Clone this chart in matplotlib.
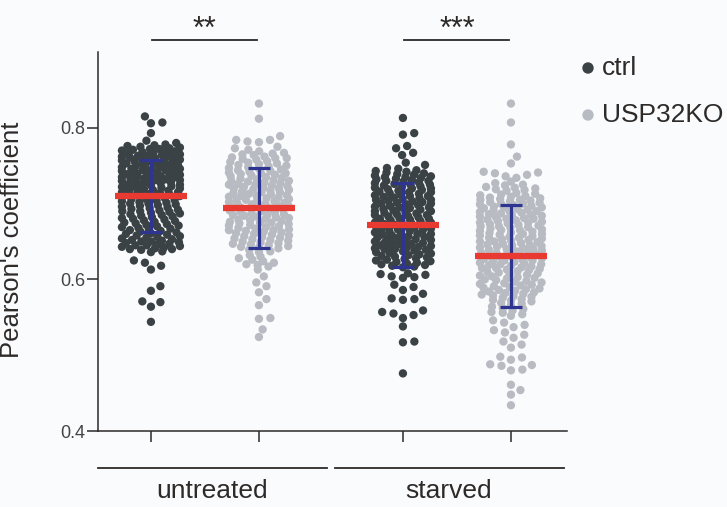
import numpy as np
import matplotlib
matplotlib.use("Agg")
import matplotlib.pyplot as plt
from matplotlib.patches import Ellipse

plt.rcParams['font.family'] = ['Liberation Sans', 'DejaVu Sans']

# ---------------- data ----------------
ctrl_untreated = [
    0.815, 0.807, 0.806, 0.793, 0.783, 0.780, 0.778, 0.777, 0.776, 0.775,
    0.774, 0.773, 0.772, 0.772, 0.771, 0.770,
    0.769, 0.768, 0.768, 0.767, 0.766, 0.765, 0.765,
    0.764, 0.763, 0.763, 0.762, 0.761, 0.761, 0.760,
    0.759, 0.759, 0.758, 0.757, 0.756, 0.756, 0.755,
    0.754, 0.753, 0.753, 0.752, 0.751, 0.751, 0.750,
    0.749, 0.748, 0.748, 0.747, 0.746, 0.746, 0.745,
    0.744, 0.744, 0.743, 0.742, 0.741, 0.741, 0.740,
    0.739, 0.738, 0.738, 0.737, 0.736, 0.735, 0.735,
    0.734, 0.733, 0.733, 0.732, 0.731, 0.731, 0.730,
    0.729, 0.728, 0.728, 0.727, 0.726, 0.725, 0.725,
    0.724, 0.723, 0.722, 0.722, 0.721, 0.720,
    0.719, 0.718, 0.718, 0.717, 0.716, 0.715, 0.715,
    0.714, 0.713, 0.712, 0.712, 0.711, 0.710,
    0.709, 0.708, 0.707, 0.706, 0.706, 0.705,
    0.704, 0.703, 0.702, 0.701, 0.700, 0.700,
    0.699, 0.698, 0.697, 0.696, 0.695,
    0.694, 0.693, 0.692, 0.691, 0.690, 0.690,
    0.689, 0.688, 0.687, 0.686, 0.685,
    0.684, 0.683, 0.682, 0.681, 0.680,
    0.679, 0.678, 0.677, 0.676, 0.675,
    0.674, 0.673, 0.672, 0.671, 0.670,
    0.669, 0.668, 0.667, 0.666, 0.665,
    0.664, 0.663, 0.662, 0.661, 0.660,
    0.659, 0.658, 0.657, 0.656, 0.655,
    0.654, 0.653, 0.652, 0.651, 0.650, 0.650,
    0.649, 0.648, 0.647, 0.646, 0.645, 0.645,
    0.644, 0.643, 0.642, 0.641, 0.640, 0.640,
    0.639, 0.637, 0.636,
    0.625, 0.622, 0.618, 0.613, 0.591, 0.585, 0.571, 0.570, 0.564, 0.544,
]

ko_untreated = [
    0.832, 0.812, 0.789, 0.784, 0.784, 0.782, 0.781, 0.775, 0.773, 0.771,
    0.769, 0.767, 0.766, 0.765,
    0.764, 0.762, 0.761, 0.760, 0.760,
    0.759, 0.758, 0.756, 0.755,
    0.754, 0.753, 0.752, 0.751, 0.750,
    0.749, 0.748, 0.747, 0.746, 0.745,
    0.744, 0.743, 0.742, 0.741, 0.740, 0.740,
    0.739, 0.738, 0.737, 0.736, 0.735,
    0.734, 0.733, 0.732, 0.731, 0.730, 0.730,
    0.729, 0.728, 0.727, 0.726, 0.725, 0.725,
    0.724, 0.723, 0.722, 0.721, 0.720, 0.720,
    0.719, 0.718, 0.717, 0.716, 0.715, 0.715,
    0.714, 0.713, 0.712, 0.711, 0.710, 0.710,
    0.709, 0.708, 0.707, 0.706, 0.705, 0.705,
    0.704, 0.703, 0.702, 0.701, 0.700, 0.700,
    0.699, 0.698, 0.697, 0.696, 0.695, 0.695,
    0.694, 0.693, 0.692, 0.691, 0.690,
    0.689, 0.688, 0.687, 0.686, 0.685, 0.685,
    0.684, 0.683, 0.682, 0.681, 0.680,
    0.679, 0.678, 0.677, 0.676, 0.675, 0.675,
    0.674, 0.673, 0.672, 0.671, 0.670,
    0.669, 0.668, 0.667, 0.666, 0.665, 0.665,
    0.664, 0.663, 0.662, 0.661, 0.660,
    0.659, 0.658, 0.657, 0.656, 0.655,
    0.654, 0.653, 0.652, 0.651, 0.650,
    0.649, 0.648, 0.647, 0.646, 0.645,
    0.644, 0.643, 0.642, 0.641,
    0.639, 0.637, 0.636,
    0.632, 0.630, 0.628, 0.626, 0.624, 0.622, 0.620, 0.619, 0.617, 0.613,
    0.604, 0.596, 0.591, 0.583, 0.574, 0.566, 0.549, 0.548, 0.534, 0.524,
]

ctrl_starved = [
    0.813, 0.793, 0.791, 0.776, 0.773, 0.767, 0.764, 0.754, 0.751, 0.747, 0.746,
    0.744, 0.743, 0.742, 0.741, 0.740,
    0.739, 0.738, 0.737, 0.736, 0.735, 0.735,
    0.734, 0.733, 0.732, 0.731, 0.730, 0.730,
    0.729, 0.728, 0.727, 0.726, 0.725, 0.725,
    0.724, 0.723, 0.722, 0.721, 0.720, 0.720,
    0.719, 0.718, 0.717, 0.716, 0.715, 0.715,
    0.714, 0.713, 0.712, 0.711, 0.710, 0.710,
    0.709, 0.708, 0.707, 0.706, 0.705, 0.705,
    0.704, 0.703, 0.702, 0.701, 0.700, 0.700,
    0.699, 0.698, 0.697, 0.696, 0.695, 0.695,
    0.694, 0.693, 0.692, 0.691, 0.690, 0.690,
    0.689, 0.688, 0.687, 0.686, 0.685, 0.685,
    0.684, 0.683, 0.682, 0.681, 0.680, 0.680,
    0.679, 0.678, 0.677, 0.676, 0.675, 0.675,
    0.674, 0.673, 0.672, 0.671, 0.670, 0.670,
    0.669, 0.668, 0.667, 0.666, 0.665, 0.665,
    0.664, 0.663, 0.662, 0.661, 0.660, 0.660,
    0.659, 0.658, 0.657, 0.656, 0.655, 0.655,
    0.654, 0.653, 0.652, 0.651, 0.650, 0.650,
    0.649, 0.648, 0.647, 0.646, 0.645, 0.645,
    0.644, 0.643, 0.642, 0.641, 0.640, 0.640,
    0.639, 0.638, 0.637, 0.636, 0.635,
    0.634, 0.633, 0.632, 0.631, 0.630,
    0.629, 0.628, 0.627, 0.626, 0.625,
    0.624, 0.623, 0.622, 0.621, 0.620,
    0.619, 0.618, 0.617, 0.616,
    0.608, 0.607, 0.606, 0.604, 0.603, 0.602, 0.593, 0.590, 0.586, 0.581,
    0.575, 0.574, 0.573, 0.559, 0.557, 0.555, 0.553, 0.549, 0.538, 0.518,
    0.517, 0.476,
]

ko_starved = [
    0.832, 0.807, 0.778, 0.762, 0.753, 0.742, 0.741, 0.740, 0.738, 0.736,
    0.734, 0.729, 0.727, 0.725, 0.724,
    0.722, 0.721, 0.720, 0.719, 0.718, 0.717,
    0.714, 0.713, 0.712, 0.711, 0.710,
    0.709, 0.708, 0.707, 0.706, 0.705, 0.705,
    0.704, 0.703, 0.702, 0.701, 0.700, 0.700,
    0.699, 0.698, 0.697, 0.696, 0.695, 0.695,
    0.694, 0.693, 0.692, 0.691, 0.690, 0.690,
    0.689, 0.688, 0.687, 0.686, 0.685, 0.685,
    0.684, 0.683, 0.682, 0.681, 0.680, 0.680,
    0.679, 0.678, 0.677, 0.676, 0.675, 0.675,
    0.674, 0.673, 0.672, 0.671, 0.670, 0.670,
    0.669, 0.668, 0.667, 0.666, 0.665, 0.665,
    0.664, 0.663, 0.662, 0.661, 0.660, 0.660,
    0.659, 0.658, 0.657, 0.656, 0.655, 0.655,
    0.654, 0.653, 0.652, 0.651, 0.650, 0.650,
    0.649, 0.648, 0.647, 0.646, 0.645, 0.645,
    0.644, 0.643, 0.642, 0.641, 0.640, 0.640,
    0.639, 0.638, 0.637, 0.636, 0.635, 0.635,
    0.634, 0.633, 0.632, 0.631, 0.630, 0.630,
    0.629, 0.628, 0.627, 0.626, 0.625, 0.625,
    0.624, 0.623, 0.622, 0.621, 0.620, 0.620,
    0.619, 0.618, 0.617, 0.616, 0.615, 0.615,
    0.614, 0.613, 0.612, 0.611, 0.610,
    0.609, 0.608, 0.607, 0.606, 0.605,
    0.604, 0.603, 0.602, 0.601, 0.600,
    0.599, 0.598, 0.597, 0.596, 0.595,
    0.594, 0.593, 0.592, 0.591, 0.590,
    0.589, 0.588, 0.587, 0.586, 0.585,
    0.584, 0.583, 0.582, 0.581, 0.580,
    0.579, 0.578, 0.577, 0.576,
    0.574, 0.573, 0.572, 0.571,
    0.569, 0.568, 0.566,
    0.564, 0.562, 0.561,
    0.559, 0.557, 0.556,
    0.554, 0.552,
    0.546, 0.543, 0.540, 0.537, 0.533, 0.530, 0.527, 0.523, 0.518, 0.514,
    0.510, 0.498, 0.497, 0.494, 0.488, 0.487, 0.486, 0.481, 0.480, 0.461,
    0.454, 0.448, 0.434,
]

group_values = [ctrl_untreated, ko_untreated, ctrl_starved, ko_starved]
group_series = ["ctrl", "USP32KO", "ctrl", "USP32KO"]
means = [0.710, 0.694, 0.672, 0.631]
sds = [0.047, 0.053, 0.055, 0.067]
conditions = ["untreated", "starved"]
significance = ["**", "***"]
series_names = ["ctrl", "USP32KO"]
yticks = [0.4, 0.6, 0.8]

# ---------------- style ----------------
BG = "#fafbfd"
TXT = "#2d2a28"
COLORS = {"ctrl": "#3b4246", "USP32KO": "#b8bcc2"}
RED = "#e83a30"
BLUE = "#2e3590"

positions = [0.0, 1.0, 2.333, 3.333]
half_widths_px = [29, 30, 28, 31]   # max swarm half-width per group

fig = plt.figure(figsize=(7.27, 5.07), dpi=100, facecolor=BG)
ax_left, ax_bottom = 98 / 727, 1 - 431 / 507
ax_w, ax_h = (567 - 98) / 727, (431 - 52) / 507
ax = fig.add_axes([ax_left, ax_bottom, ax_w, ax_h])
ax.set_facecolor(BG)
XLIM = (-0.49, 3.852)
YLIM = (0.4, 0.9)
ax.set_xlim(*XLIM)
ax.set_ylim(*YLIM)

PX_X = (567 - 98) / (XLIM[1] - XLIM[0])   # pixels per x unit
PX_Y = (431 - 52) / (YLIM[1] - YLIM[0])   # pixels per y unit


def swarm_x(vals, center, cap, a=11.5, b_sparse=8.0, b_dense=4.3):
    """Capped anisotropic beeswarm layout (pixels), returned in data x units."""
    vals = np.asarray(vals, dtype=float)
    ypx = (vals - YLIM[0]) * PX_Y
    # local crowding decides how much vertical room each dot claims
    loc = np.array([(np.abs(ypx - y) < 6).sum() for y in ypx])
    bvals = np.where(loc > 6, b_dense, b_sparse)
    order = np.argsort(ypx)
    px, py = np.zeros(len(vals)), np.zeros(len(vals))
    n_placed = 0
    grid = np.arange(-cap, cap + 0.01, 0.5)
    xs = np.zeros_like(vals)
    for i in order:
        y = ypx[i]
        b = bvals[i]
        cx, cy = px[:n_placed], py[:n_placed]
        near = np.abs(cy - y) < b
        nx, ny = cx[near], cy[near]
        chosen = None
        if len(nx) == 0:
            chosen = 0.0
        else:
            cands = [0.0]
            for xx, yy in zip(nx, ny):
                off = a * np.sqrt(max(1 - ((yy - y) / b) ** 2, 0.0))
                cands += [xx + off, xx - off]
            cands = np.array(cands)
            cands = cands[np.abs(cands) <= cap + 1e-6]
            cands = cands[np.argsort(np.abs(cands) + 1e-6 * (cands < 0))]
            for c in cands:
                dist = ((nx - c) / a) ** 2 + ((ny - y) / b) ** 2
                if np.all(dist >= 1 - 1e-6):
                    chosen = c
                    break
            if chosen is None:
                dist = ((grid[:, None] - nx[None, :]) / a) ** 2 + \
                       ((y - ny[None, :]) / b) ** 2
                score = dist.min(axis=1) - 1e-4 * np.abs(grid)
                chosen = grid[np.argmax(score)]
        px[n_placed], py[n_placed] = chosen, y
        n_placed += 1
        xs[i] = center + chosen / PX_X
    return xs


for vals, ser, pos, m, s, hw in zip(group_values, group_series, positions, means,
                                     sds, half_widths_px):
    xs = swarm_x(vals, pos, hw)
    ax.scatter(xs, vals, s=36, color=COLORS[ser], edgecolors="none", zorder=2)
    ax.errorbar([pos], [m], yerr=[s], color=BLUE, elinewidth=2.3, capsize=8,
                capthick=2.3, fmt="none", zorder=3)
    ax.hlines(m, pos - 0.335, pos + 0.335, color=RED, lw=4.5, zorder=4)

for side in ("top", "right"):
    ax.spines[side].set_visible(False)
for side in ("left", "bottom"):
    ax.spines[side].set_color(TXT)
    ax.spines[side].set_linewidth(1.1)

ax.set_yticks(yticks)
ax.set_yticklabels([f"{t:.1f}" for t in yticks], fontsize=13, color="#444444")
ax.set_xticks(positions)
ax.set_xticklabels([])
ax.tick_params(axis="both", colors=TXT, width=1.1, length=8, pad=1)
ax.tick_params(axis="y", labelcolor="#444444")

ax.set_ylabel("Pearson's coefficient", fontsize=18.5, color=TXT)
ax.yaxis.set_label_coords(-0.158, 0.505)

# condition group lines and labels
tr = ax.get_xaxis_transform()
pairs = [(positions[0], positions[1]), (positions[2], positions[3])]
spans = [(-0.49, 1.63), (1.70, 3.82)]
for (a_, b_), (l, r), name, sig in zip(pairs, spans, conditions, significance):
    ax.plot([l, r], [-0.0976, -0.0976], color=TXT, lw=1.3, transform=tr, clip_on=False)
    ax.text((l + r) / 2, -0.158, name, transform=tr, ha="center", va="center",
            fontsize=19, color=TXT)
    ax.plot([a_ + 0.01, b_ - 0.02], [1.032, 1.032], color=TXT, lw=1.3, transform=tr,
            clip_on=False)
    ax.text((a_ + b_) / 2, 1.058, sig, transform=tr, ha="center", va="center",
            fontsize=22, color=TXT)

# legend
for i, name in enumerate(series_names):
    yfig = 1 - (68 + 47 * i) / 507
    fig.patches.append(Ellipse((588 / 727, yfig), 10 / 727, 10 / 507,
                               transform=fig.transFigure, color=COLORS[name]))
    fig.text(602 / 727, yfig, name, fontsize=19, color=TXT, va="center", ha="left")

fig.savefig("out.png", dpi=100, facecolor=BG)
